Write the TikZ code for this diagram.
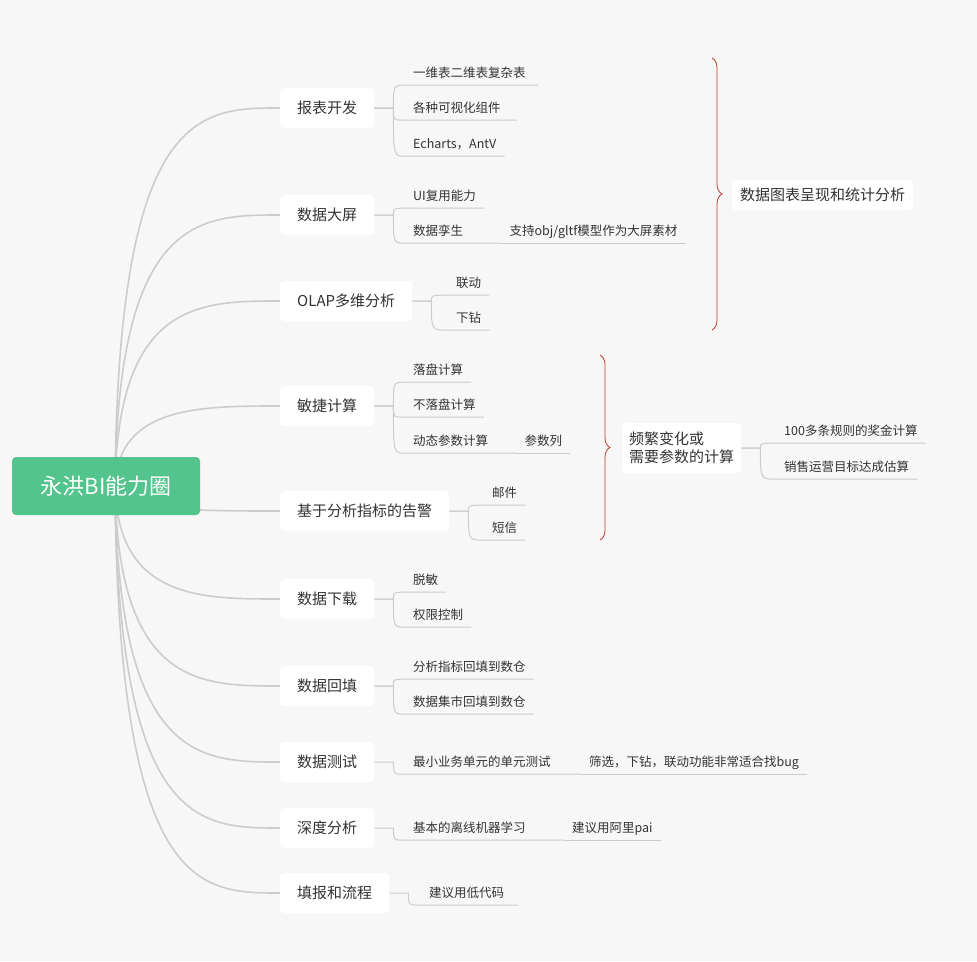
\documentclass[tikz,border=0pt]{standalone}
\usepackage{fontspec}
\setmainfont{Noto Sans CJK SC}
\usetikzlibrary{calc,decorations.pathreplacing}
\definecolor{bg}{HTML}{F7F7F7}
\definecolor{ln}{HTML}{CCCCCC}
\definecolor{rootc}{HTML}{52C48C}
\definecolor{br}{HTML}{C0392B}
\definecolor{tx}{HTML}{333333}
\newcommand{\gap}[1]{\rule{#1}{0pt}}
\tikzset{
 lvl/.style={fill=white,rounded corners=4pt,inner xsep=17pt,minimum height=40pt,font=\fontsize{15}{18}\selectfont,text=tx},
 leaf/.style={inner xsep=8pt,inner ysep=5pt,anchor=west,text height=11pt,text depth=3pt,font=\fontsize{12.5}{15}\selectfont,text=tx},
 con/.style={draw=ln,line width=1.6pt},
 sub/.style={draw=ln,line width=1pt},
 brc/.style={draw=br,line width=0.8pt,decorate,decoration={brace,amplitude=10pt}}
}
\newcommand{\rootto}[1]{\draw[con] (115,486) .. controls (118,\csname yy#1\endcsname) and (200,\csname yy#1\endcsname) .. (#1.west);}
\newcommand{\leafto}[2]{\draw[sub] (#1.east) -- ($(#1.east)+(19,0)$) coordinate (b#1) .. controls (b#1 |- #2.south west) .. (#2.south west) -- (#2.south east);}
\newcommand{\extend}[2]{\draw[sub] (#1.south east) -- (#2.south west) -- (#2.south east);}
\begin{document}
\begin{tikzpicture}[x=1pt,y=-1pt]
\fill[bg] (0,0) rectangle (977,961);
\useasboundingbox (0,0) rectangle (977,961);
% level1
\def\yya{108}\def\yyb{215}\def\yyc{301}\def\yyd{406}\def\yye{511}\def\yyf{599}\def\yyg{686}\def\yyh{762}\def\yyi{828}\def\yyj{893}
\node[lvl,anchor=west] (a) at (280,108) {报表开发};
\node[lvl,anchor=west] (b) at (280,215) {数据大屏};
\node[lvl,anchor=west] (c) at (280,301) {OLAP多维分析};
\node[lvl,anchor=west] (d) at (280,406) {敏捷计算};
\node[lvl,anchor=west] (e) at (280,511) {基于分析指标的告警};
\node[lvl,anchor=west] (f) at (280,599) {数据下载};
\node[lvl,anchor=west] (g) at (280,686) {数据回填};
\node[lvl,anchor=west] (h) at (280,762) {数据测试};
\node[lvl,anchor=west] (i) at (280,828) {深度分析};
\node[lvl,anchor=west] (j) at (280,893) {填报和流程};
\foreach \n in {a,b,c,d,e,f,g,h,i,j}{\rootto{\n}}
\node[fill=rootc,rounded corners=4pt,minimum width=188pt,minimum height=58pt,text=white,font=\fontsize{22}{26}\selectfont] (root) at (106,486) {永洪BI能力圈};
% leaves
\node[leaf] (a1) at (405,73) {一维表二维表复杂表\gap{4pt}};
\node[leaf] (a2) at (405,108) {各种可视化组件\gap{8pt}};
\node[leaf] (a3) at (405,144) {Echarts，AntV};
\foreach \c in {a1,a2,a3}{\leafto{a}{\c}}
\node[leaf] (b1) at (405,196) {UI复用能力};
\node[leaf] (b2) at (405,231) {数据孪生\gap{30pt}};
\node[leaf,anchor=south west] (b3) at (b2.south east) {支持obj/gltf模型作为大屏素材};
\leafto{b}{b1}\leafto{b}{b2}\extend{b2}{b3}
\node[leaf] (c1) at (448,283) {联动};
\node[leaf] (c2) at (448,318) {下钻};
\leafto{c}{c1}\leafto{c}{c2}
\node[leaf] (d1) at (405,370) {落盘计算};
\node[leaf] (d2) at (405,405) {不落盘计算};
\node[leaf] (d3) at (405,441) {动态参数计算\gap{20pt}};
\node[leaf,anchor=south west] (d4) at (d3.south east) {参数列};
\leafto{d}{d1}\leafto{d}{d2}\leafto{d}{d3}\extend{d3}{d4}
\node[leaf] (e1) at (484,493) {邮件};
\node[leaf] (e2) at (484,528) {短信};
\leafto{e}{e1}\leafto{e}{e2}
\node[leaf] (f1) at (405,580) {脱敏};
\node[leaf] (f2) at (405,615) {权限控制};
\leafto{f}{f1}\leafto{f}{f2}
\node[leaf] (g1) at (405,667) {分析指标回填到数仓};
\node[leaf] (g2) at (405,702) {数据集市回填到数仓};
\leafto{g}{g1}\leafto{g}{g2}
\node[leaf] (h1) at (405,762) {最小业务单元的单元测试\gap{22pt}};
\node[leaf,anchor=south west] (h2) at (h1.south east) {筛选，下钻，联动功能非常适合找bug};
\leafto{h}{h1}\extend{h1}{h2}
\node[leaf] (i1) at (405,828) {基本的离线机器学习\gap{30pt}};
\node[leaf,anchor=south west] (i2) at (i1.south east) {建议用阿里pai};
\leafto{i}{i1}\extend{i1}{i2}
\node[leaf] (j1) at (421,893) {建议用低代码\gap{6pt}};
\leafto{j}{j1}
% summaries
\coordinate (s1t) at (712,58); \coordinate (s1b) at (712,330);
\draw[brc] (s1t) -- (s1b);
\node[lvl,minimum height=30pt,inner xsep=8pt,anchor=west] (s1) at (732,195) {数据图表呈现和统计分析};
\coordinate (s2t) at (600,355); \coordinate (s2b) at (600,540);
\draw[brc] (s2t) -- (s2b);
\node[lvl,minimum height=50pt,inner xsep=7pt,anchor=west,align=left] (s2) at (622,448) {频繁变化或\\需要参数的计算};
\node[leaf] (s21) at (776,431) {100多条规则的奖金计算};
\node[leaf] (s22) at (776,467) {销售运营目标达成估算};
\leafto{s2}{s21}\leafto{s2}{s22}
\end{tikzpicture}
\end{document}
